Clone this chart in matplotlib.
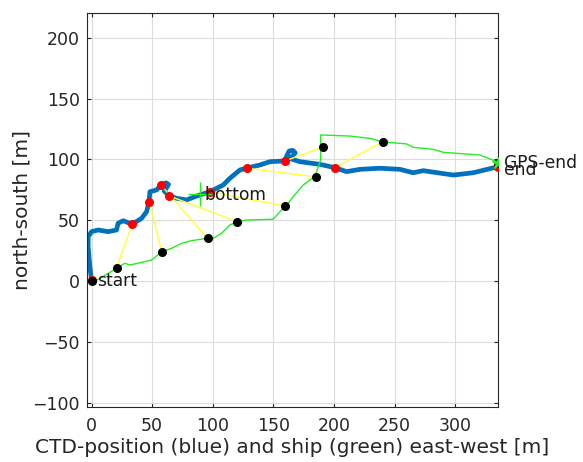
import matplotlib
matplotlib.use("Agg")
import matplotlib.pyplot as plt

# CTD track (blue)
ctd_x = [0, -1.4, -2.8, -2.8, 0, 5.4, 13.7, 20.6, 21.9, 26.1, 30.2, 33.5, 41.3, 45.4,
         47.5, 48.1, 53.6, 57.2, 61.5, 63.5, 62, 60, 64, 70.1, 78.4, 85.2, 97.6, 108.6,
         114.1, 122.4, 128, 138.9, 147.1, 159.6, 161, 163, 166, 168, 166, 163, 171.9,
         188.4, 200.7, 210.4, 221.4, 237.6, 254.4, 265.3, 273.6, 298.4, 314.9, 335]
ctd_y = [0.8, 11.8, 28.2, 36.5, 40.6, 42, 40.6, 42, 47.5, 49.6, 48, 46.7, 51.6, 57,
         65.3, 73.5, 74.9, 79, 80.8, 79.5, 77, 74, 70, 68.1, 66.7, 69.4, 73.5, 79,
         84.5, 91.4, 92.9, 95.5, 98.2, 98.8, 103, 107, 107.5, 105.5, 103, 101, 98.2,
         96, 93.3, 90, 91.9, 92.8, 91.9, 89.1, 90.8, 87.2, 89.1, 94]

# ship GPS track (green)
ship_x = [0, 20.6, 27.5, 31.6, 38.4, 49.5, 57.8, 66, 74.3, 82.5, 94.9, 100.3, 107.3,
          114.1, 120.1, 127.9, 149.8, 155.4, 160.3, 166.3, 174.6, 184.5, 187, 189, 189,
          213.1, 229.6, 240.4, 254.4, 259.9, 265.3, 281.8, 290.1, 301.2, 320.4, 334.5]
ship_y = [-1.9, 10.4, 14.6, 13.2, 14.6, 17.3, 24.1, 26.9, 31, 33.2, 35.1, 35.1, 39.3,
          46.1, 48.8, 50.2, 50.8, 57, 61.7, 69.4, 79, 86.4, 94.1, 99.6, 120.2,
          119.3, 117.4, 114.4, 113.3, 112.8, 110, 108.4, 105.9, 105.1, 103.7, 98.2]

# matched positions: CTD (red) and ship (black)
red_x = [0, 33.5, 47.5, 57.2, 64, 97.6, 127.9, 159.6, 200.7, 335]
red_y = [0.8, 46.7, 65.3, 79, 70, 73.5, 92.9, 98.8, 93.3, 93.5]
blk_x = [0, 20.6, 58, 95.7, 120.1, 159.5, 184.8, 191.1, 240.1, 335]
blk_y = [0, 10.9, 23.6, 35.1, 48.8, 61.7, 85.8, 110.5, 114.6, 97]

bottom_ship = (89.4, 71.6)
end_gps = (335.5, 97)

fig = plt.figure(figsize=(5.83, 4.62), dpi=100)
ax = fig.add_axes([0.1487, 0.119, 0.706, 0.8535])

ax.plot(ctd_x, ctd_y, color='#0072BD', lw=3.4, solid_capstyle='round', zorder=2)
ax.plot(ship_x, ship_y, color='#22ee22', lw=1, zorder=3)
for rx, ry, bx, by in zip(red_x, red_y, blk_x, blk_y):
    ax.plot([rx, bx], [ry, by], color='#ffff33', lw=1, zorder=4)
ax.plot(red_x, red_y, 'o', color='red', ms=5.5, zorder=5)
ax.plot(blk_x, blk_y, 'o', color='black', ms=5.5, zorder=6)
ax.plot(*bottom_ship, '+', color='#22ee22', ms=17, mew=1, zorder=7)
ax.plot(*end_gps, '*', color='#22ee22', ms=9, zorder=7)

ax.text(4.5, 0, 'start', fontsize=12.3, va='center', color='#1a1a1a', zorder=8)
ax.text(93.5, 71, 'bottom', fontsize=12.3, va='center', color='#1a1a1a', zorder=8)
ax.text(340, 97, 'GPS-end', fontsize=12.3, va='center', color='#1a1a1a', zorder=8, clip_on=False)
ax.text(340, 91.5, 'end', fontsize=12.3, va='center', color='#1a1a1a', zorder=8, clip_on=False)

ax.set_xlim(-4, 335.5)
ax.set_ylim(-103.7, 220.8)
ax.set_xticks(range(0, 301, 50))
ax.set_yticks(range(-100, 201, 50))
ax.grid(True, color='#dcdcdc', lw=0.8)
ax.set_axisbelow(True)
ax.tick_params(direction='in', length=3, top=True, right=True, labelsize=12.5,
               colors='#262626')
ax.tick_params(axis='x', pad=7.5)
ax.tick_params(axis='y', pad=5)
for s in ax.spines.values():
    s.set_color('#262626')
    s.set_linewidth(0.8)
ax.set_xlabel('CTD-position (blue) and ship (green) east-west [m]', fontsize=14.5,
              color='#262626', labelpad=2)
ax.set_ylabel('north-south [m]', fontsize=14.5, color='#262626', labelpad=0.5)

fig.savefig('out.png', dpi=100)
